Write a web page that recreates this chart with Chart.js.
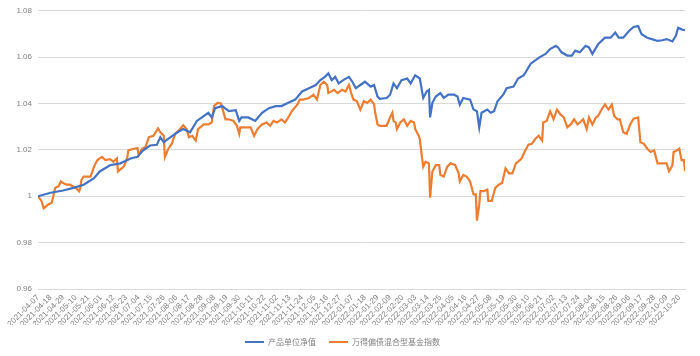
<!DOCTYPE html>
<html><head><meta charset="utf-8">
<script src="https://cdn.jsdelivr.net/npm/chart.js@4/dist/chart.umd.min.js"></script>
<style>html,body{margin:0;padding:0;background:#fff}</style>
</head><body>
<canvas id="c" width="700" height="356"></canvas>
<script>
const startDate = '2021-04-07';
const endDate = '2022-10-25';
const tickStepDays = 11;
const yMin = 0.96, yMax = 1.08, yStep = 0.02;
const seriesNames = ['产品单位净值', '万得偏债混合型基金指数'];
const seriesColors = ['#4472C4', '#ED7D31'];

const navDates = ['2021-04-07','2021-04-18','2021-04-29','2021-05-08','2021-05-17','2021-05-26','2021-05-31','2021-06-09','2021-06-18','2021-06-27',
'2021-07-03','2021-07-08','2021-07-14','2021-07-20','2021-07-23','2021-07-26','2021-08-01','2021-08-07','2021-08-12','2021-08-18',
'2021-08-24','2021-09-03','2021-09-06','2021-09-09','2021-09-15','2021-09-21','2021-09-27','2021-09-30','2021-10-02','2021-10-08',
'2021-10-14','2021-10-20','2021-10-26','2021-11-01','2021-11-06','2021-11-12','2021-11-18','2021-11-24','2021-11-30','2021-12-06',
'2021-12-10','2021-12-14','2021-12-17','2021-12-20','2021-12-23','2021-12-26','2021-12-30','2022-01-04','2022-01-07','2022-01-10',
'2022-01-14','2022-01-18','2022-01-23','2022-01-26','2022-01-29','2022-01-31','2022-02-06','2022-02-09','2022-02-12','2022-02-15',
'2022-02-19','2022-02-24','2022-02-27','2022-03-03','2022-03-07','2022-03-10','2022-03-13','2022-03-15','2022-03-16','2022-03-18',
'2022-03-21','2022-03-25','2022-03-28','2022-04-01','2022-04-06','2022-04-09','2022-04-11','2022-04-14','2022-04-20','2022-04-23',
'2022-04-26','2022-04-28','2022-04-30','2022-05-05','2022-05-08','2022-05-11','2022-05-14','2022-05-19','2022-05-22','2022-05-28',
'2022-06-01','2022-06-06','2022-06-12','2022-06-16','2022-06-20','2022-06-25','2022-06-29','2022-07-04','2022-07-06','2022-07-09',
'2022-07-14','2022-07-18','2022-07-21','2022-07-25','2022-07-30','2022-08-02','2022-08-05','2022-08-10','2022-08-16','2022-08-21',
'2022-08-25','2022-08-28','2022-09-01','2022-09-06','2022-09-10','2022-09-14','2022-09-17','2022-09-22','2022-09-26','2022-10-01',
'2022-10-05','2022-10-09','2022-10-14','2022-10-17','2022-10-19','2022-10-22','2022-10-25'];
const navValues = [1.0000,1.0015,1.0025,1.0036,1.0050,1.0078,1.0107,1.0134,1.0142,1.0163,
1.0170,1.0198,1.0219,1.0222,1.0255,1.0233,1.0255,1.0276,1.0290,1.0276,
1.0325,1.0360,1.0340,1.0380,1.0389,1.0367,1.0371,1.0325,1.0340,1.0340,
1.0325,1.0360,1.0380,1.0389,1.0389,1.0403,1.0417,1.0452,1.0466,1.0480,
1.0501,1.0515,1.0530,1.0501,1.0515,1.0487,1.0501,1.0515,1.0494,1.0466,
1.0480,1.0494,1.0473,1.0480,1.0430,1.0420,1.0424,1.0438,1.0487,1.0466,
1.0501,1.0508,1.0487,1.0522,1.0508,1.0424,1.0452,1.0459,1.0340,1.0403,
1.0430,1.0445,1.0424,1.0438,1.0438,1.0430,1.0395,1.0424,1.0417,1.0374,
1.0367,1.0297,1.0360,1.0374,1.0360,1.0367,1.0410,1.0438,1.0466,1.0473,
1.0508,1.0522,1.0572,1.0586,1.0600,1.0614,1.0635,1.0649,1.0642,1.0621,
1.0607,1.0607,1.0628,1.0621,1.0649,1.0642,1.0614,1.0656,1.0684,1.0684,
1.0706,1.0684,1.0684,1.0713,1.0730,1.0734,1.0699,1.0684,1.0678,1.0670,
1.0673,1.0678,1.0668,1.0692,1.0727,1.0720,1.0716];

const idxDates = ['2021-04-07','2021-04-10','2021-04-12','2021-04-16','2021-04-19','2021-04-22','2021-04-25','2021-04-27','2021-04-29','2021-05-02',
'2021-05-05','2021-05-10','2021-05-13','2021-05-14','2021-05-15','2021-05-17','2021-05-23','2021-05-26','2021-05-29','2021-05-31',
'2021-06-02','2021-06-05','2021-06-09','2021-06-12','2021-06-15','2021-06-16','2021-06-21','2021-06-24','2021-06-25','2021-06-30',
'2021-07-03','2021-07-04','2021-07-07','2021-07-10','2021-07-13','2021-07-17','2021-07-21','2021-07-23','2021-07-26','2021-07-27',
'2021-07-30','2021-08-02','2021-08-05','2021-08-08','2021-08-12','2021-08-15','2021-08-17','2021-08-20','2021-08-23','2021-08-25',
'2021-08-30','2021-09-03','2021-09-06','2021-09-08','2021-09-11','2021-09-14','2021-09-16','2021-09-18','2021-09-21','2021-09-25',
'2021-09-28','2021-09-30','2021-10-01','2021-10-05','2021-10-10','2021-10-13','2021-10-16','2021-10-20','2021-10-24','2021-10-27',
'2021-10-30','2021-11-02','2021-11-06','2021-11-09','2021-11-12','2021-11-15','2021-11-20','2021-11-22','2021-11-25','2021-11-30',
'2021-12-04','2021-12-07','2021-12-10','2021-12-13','2021-12-16','2021-12-17','2021-12-22','2021-12-25','2021-12-29','2022-01-01',
'2022-01-04','2022-01-06','2022-01-08','2022-01-11','2022-01-14','2022-01-17','2022-01-20','2022-01-23','2022-01-26','2022-01-27',
'2022-01-29','2022-01-31','2022-02-06','2022-02-09','2022-02-11','2022-02-12','2022-02-14','2022-02-15','2022-02-18','2022-02-21',
'2022-02-24','2022-02-27','2022-03-02','2022-03-03','2022-03-06','2022-03-07','2022-03-09','2022-03-10','2022-03-12','2022-03-15',
'2022-03-16','2022-03-18','2022-03-21','2022-03-24','2022-03-25','2022-03-28','2022-03-31','2022-04-03','2022-04-07','2022-04-10',
'2022-04-11','2022-04-14','2022-04-17','2022-04-20','2022-04-23','2022-04-25','2022-04-26','2022-04-28','2022-04-29','2022-05-02',
'2022-05-05','2022-05-06','2022-05-09','2022-05-12','2022-05-15','2022-05-18','2022-05-21','2022-05-24','2022-05-27','2022-05-30',
'2022-06-01','2022-06-04','2022-06-07','2022-06-10','2022-06-13','2022-06-16','2022-06-19','2022-06-22','2022-06-23','2022-06-26',
'2022-06-29','2022-07-02','2022-07-05','2022-07-08','2022-07-11','2022-07-14','2022-07-17','2022-07-20','2022-07-23','2022-07-25',
'2022-07-28','2022-07-31','2022-08-02','2022-08-05','2022-08-08','2022-08-10','2022-08-13','2022-08-16','2022-08-19','2022-08-22',
'2022-08-24','2022-08-27','2022-08-29','2022-09-01','2022-09-04','2022-09-07','2022-09-10','2022-09-14','2022-09-16','2022-09-19',
'2022-09-22','2022-09-25','2022-09-28','2022-10-01','2022-10-05','2022-10-09','2022-10-11','2022-10-14','2022-10-15','2022-10-18',
'2022-10-20','2022-10-22','2022-10-24','2022-10-25'];
const idxValues = [1.0000,0.9980,0.9948,0.9965,0.9972,1.0036,1.0043,1.0064,1.0057,1.0050,
1.0050,1.0036,1.0022,1.0036,1.0071,1.0085,1.0085,1.0128,1.0156,1.0163,
1.0170,1.0156,1.0160,1.0149,1.0163,1.0107,1.0128,1.0163,1.0198,1.0205,
1.0208,1.0177,1.0205,1.0212,1.0255,1.0261,1.0293,1.0276,1.0261,1.0170,
1.0205,1.0226,1.0269,1.0283,1.0307,1.0290,1.0255,1.0261,1.0240,1.0290,
1.0310,1.0310,1.0318,1.0389,1.0403,1.0400,1.0367,1.0332,1.0332,1.0325,
1.0304,1.0269,1.0297,1.0297,1.0297,1.0261,1.0290,1.0310,1.0318,1.0304,
1.0325,1.0318,1.0332,1.0318,1.0340,1.0367,1.0396,1.0417,1.0417,1.0424,
1.0438,1.0417,1.0480,1.0494,1.0480,1.0445,1.0459,1.0445,1.0459,1.0452,
1.0480,1.0445,1.0417,1.0410,1.0374,1.0410,1.0403,1.0417,1.0396,1.0360,
1.0310,1.0304,1.0304,1.0340,1.0360,1.0325,1.0318,1.0290,1.0318,1.0332,
1.0304,1.0325,1.0318,1.0290,1.0261,1.0247,1.0163,1.0128,1.0149,1.0142,
0.9994,1.0107,1.0134,1.0134,1.0092,1.0085,1.0128,1.0142,1.0134,1.0099,
1.0064,1.0092,1.0085,1.0064,1.0008,1.0008,0.9895,0.9965,1.0022,1.0022,
1.0029,0.9980,0.9980,1.0036,1.0050,1.0057,1.0120,1.0099,1.0099,1.0142,
1.0149,1.0163,1.0195,1.0222,1.0226,1.0247,1.0261,1.0240,1.0318,1.0325,
1.0367,1.0332,1.0374,1.0353,1.0340,1.0297,1.0310,1.0332,1.0310,1.0318,
1.0332,1.0290,1.0340,1.0310,1.0340,1.0346,1.0374,1.0396,1.0374,1.0396,
1.0346,1.0332,1.0332,1.0276,1.0269,1.0310,1.0335,1.0340,1.0233,1.0226,
1.0205,1.0191,1.0198,1.0142,1.0142,1.0142,1.0107,1.0134,1.0191,1.0198,
1.0205,1.0156,1.0156,1.0109];

const DAY = 86400000;
const t0 = Date.parse(startDate + 'T00:00:00Z');
const dayOf = s => Math.round((Date.parse(s + 'T00:00:00Z') - t0) / DAY);
const fmtDay = d => new Date(t0 + d * DAY).toISOString().slice(0, 10);
const lastDay = dayOf(endDate);
const tickDays = [];
for (let d = 0; d <= lastDay; d += tickStepDays) tickDays.push(d);
const tickLabels = tickDays.map(fmtDay);

const toPoints = (dates, vals) => dates.map((s, i) => ({x: dayOf(s), y: vals[i]}));

new Chart(document.getElementById('c'), {
  type: 'line',
  data: {
    datasets: [
      {label: seriesNames[0], data: toPoints(navDates, navValues), borderColor: seriesColors[0], backgroundColor: seriesColors[0],
       borderWidth: 2.2, pointRadius: 0, tension: 0},
      {label: seriesNames[1], data: toPoints(idxDates, idxValues), borderColor: seriesColors[1], backgroundColor: seriesColors[1],
       borderWidth: 2.2, pointRadius: 0, tension: 0}
    ]
  },
  options: {
    responsive: false,
    animation: false,
    devicePixelRatio: 1,
    layout: {padding: {top: 9, right: 15, left: 0, bottom: 0}},
    plugins: {
      tooltip: {enabled: false},
      legend: {
        position: 'bottom',
        labels: {
          boxWidth: 19, boxHeight: 2, padding: 13,
          color: '#7f7f7f',
          font: {family: '"Noto Sans CJK SC", sans-serif', size: 8},
          generateLabels: chart => Chart.defaults.plugins.legend.labels.generateLabels(chart).map(l => Object.assign(l, {lineWidth: 0}))
        }
      }
    },
    scales: {
      x: {
        type: 'linear', min: 0, max: lastDay,
        grid: {display: false, drawTicks: false},
        border: {display: true, color: '#d9d9d9', width: 1},
        afterBuildTicks: s => { s.ticks = tickDays.map(v => ({value: v})); },
        afterFit: s => { s.height = 36; },
        ticks: {
          autoSkip: false, maxRotation: 45, minRotation: 45, padding: 4,
          color: '#7f7f7f', font: {family: '"Liberation Sans", Arial, sans-serif', size: 8},
          callback: (v) => { const i = tickDays.indexOf(v); return i >= 0 ? tickLabels[i] : ''; }
        }
      },
      y: {
        min: yMin, max: yMax,
        grid: {color: '#d9d9d9', drawTicks: false, lineWidth: 1},
        border: {display: false},
        afterFit: s => { s.width = 38; },
        ticks: {
          stepSize: yStep, padding: 6,
          color: '#7f7f7f', font: {family: '"Liberation Sans", Arial, sans-serif', size: 8},
          callback: v => String(Number(v.toFixed(2)))
        }
      }
    }
  }
});
</script>
</body></html>
